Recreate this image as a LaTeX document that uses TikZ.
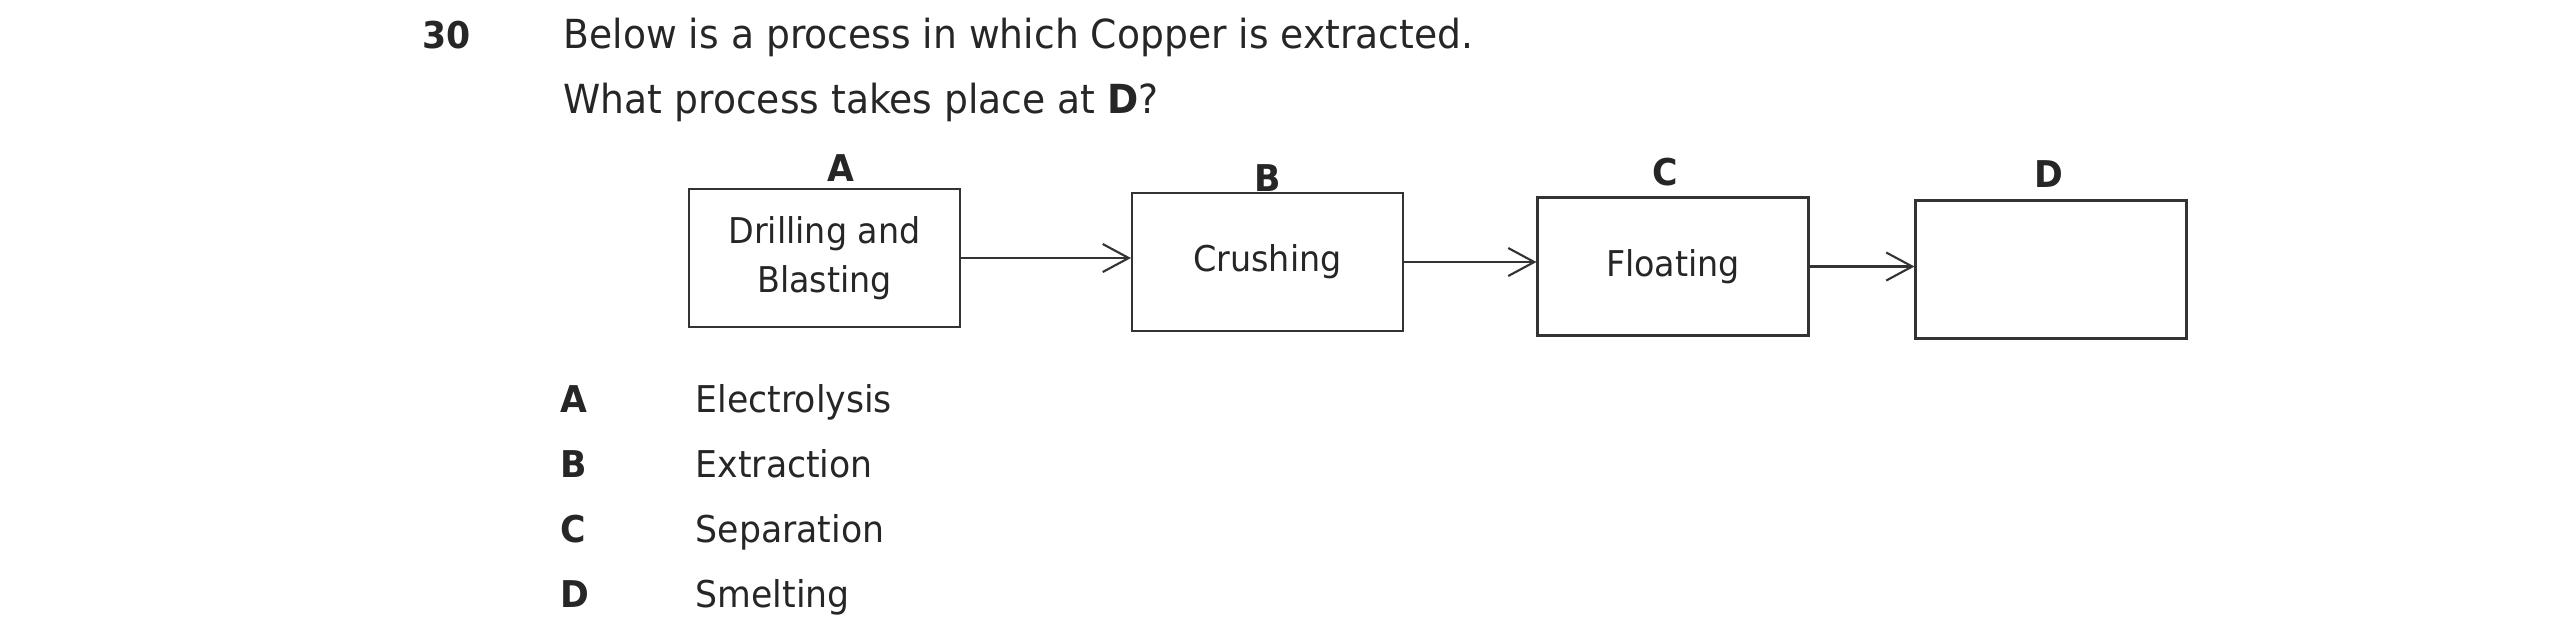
\documentclass[tikz,border=0pt]{standalone}
\usepackage{fontspec}
\setmainfont[FakeStretch=0.94]{DejaVu Sans}
\usetikzlibrary{arrows.meta,positioning,calc}
\newcommand{\qfont}{\fontsize{10.5}{14}\selectfont}
\newcommand{\askfont}{\fontsize{11.4}{14}\selectfont}
\newcommand{\boxfont}{\fontsize{10.1}{14}\selectfont}

\begin{document}
\begin{tikzpicture}[
  >={Straight Barb[length=2.6mm,width=2.8mm]},
  font=\qfont,
  stage/.style={rectangle, draw=black!80, line width=0.6pt, minimum width=27.1mm,
                minimum height=13.8mm, align=center, inner sep=0pt, text=black!85,
                font=\boxfont},
  stagelab/.style={font=\qfont\bfseries, inner sep=0pt, anchor=south, text=black!85},
  flow/.style={->, line width=0.6pt, black!80},
  txt/.style={anchor=base west, inner sep=0pt, text=black!85}
]
\useasboundingbox (0,0) rectangle (25.5,-6.43);

% ---------- Question ----------
\node[txt, font=\qfont\bfseries] (num) at (4.22,-0.48) {30};
\node[txt, font=\askfont] (q1) at (5.63,-0.48) {Below is a process in which Copper is extracted.};
\node[txt, font=\askfont] (q2) at (5.63,-1.13) {What process takes place at \textbf{D}?};

% ---------- Stages ----------
\node[stage] (A) at (8.245,-2.58)  {Drilling and\\Blasting};
\node[stage] (B) at (12.675,-2.62) {Crushing};
\node[stage] (C) at (16.73,-2.665) {Floating};
\node[stage] (D) at (20.51,-2.695) {};

\foreach \s/\dx/\dy in {A/0.16/0.06,B/0/0,C/-0.08/0.10,D/-0.02/0.11}
  \node[stagelab] (lab\s) at ($(\s.north)+(\dx,\dy)$) {\s};

% ---------- Flow ----------
\draw[flow] (A.east) -- (A.east -| B.west);
\draw[flow] (B.east) -- (B.east -| C.west);
\draw[flow] (C.east) -- (C.east -| D.west);

% ---------- Options ----------
\foreach \l/\t [count=\i] in {A/Electrolysis,B/Extraction,C/Separation,D/Smelting} {
  \node[txt, font=\qfont\bfseries] (opt\l) at (5.60,{-4.12-0.653*(\i-1)}) {\l};
  \node[txt] (ans\l) at (6.95,{-4.12-0.653*(\i-1)}) {\t};
}

\end{tikzpicture}
\end{document}
